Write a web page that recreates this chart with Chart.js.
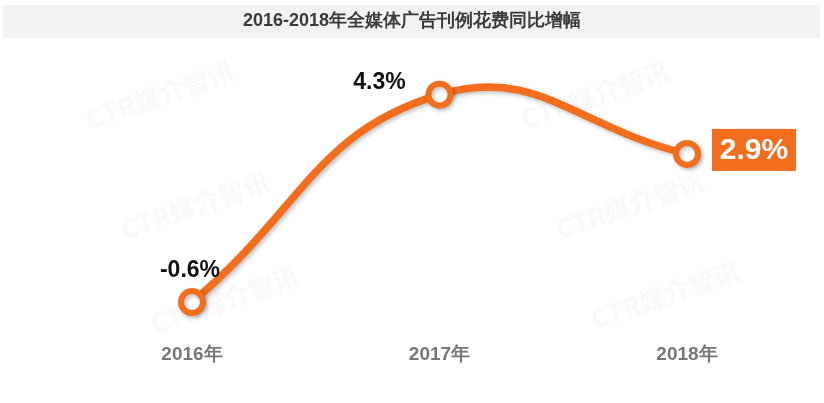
<!DOCTYPE html>
<html>
<head>
<meta charset="utf-8">
<script src="https://cdn.jsdelivr.net/npm/chart.js@4"></script>
<style>
  html, body { margin: 0; padding: 0; background: #fff; }
  #wrap { width: 824px; height: 403px; position: relative; }
</style>
</head>
<body>
<div id="wrap"><canvas id="growthChart" width="824" height="403"></canvas></div>
<script>
const years = ['2016年', '2017年', '2018年'];
const growth = [-0.6, 4.3, 2.9];
const growthLabels = ['-0.6%', '4.3%', '2.9%'];
const chartTitle = '2016-2018年全媒体广告刊例花费同比增幅';

const orange = '#f26d1c';

// gray title band, watermark, value labels
const decor = {
  id: 'decor',
  beforeDraw(chart) {
    const c = chart.ctx;
    c.save();
    c.fillStyle = '#f2f2f2';
    c.fillRect(3, 5, 817, 33);
    c.fillStyle = '#3a3a3a';
    c.font = 'bold 18px "Liberation Sans", Arial, sans-serif';
    c.textAlign = 'center';
    c.textBaseline = 'middle';
    c.fillText(chartTitle, 412, 21);

    c.fillStyle = 'rgba(200,200,200,0.10)';
    c.font = 'bold 26px "Noto Sans CJK SC", sans-serif';
    [[160, 95], [595, 95], [195, 205], [630, 205], [225, 300], [665, 295]].forEach(([x, y]) => {
      c.save();
      c.translate(x, y);
      c.rotate(-0.33);
      c.fillText('CTR媒介智讯', 0, 0);
      c.restore();
    });
    c.restore();
  },
  afterDatasetsDraw(chart) {
    const c = chart.ctx;
    const pts = chart.getDatasetMeta(0).data;
    c.save();
    c.textAlign = 'center';
    c.textBaseline = 'middle';
    c.font = 'bold 23px "Liberation Sans", Arial, sans-serif';
    c.fillStyle = '#111';
    c.fillText(growthLabels[0], pts[0].x - 2, pts[0].y - 31);
    c.fillText(growthLabels[1], pts[1].x - 60, pts[1].y - 12);

    const p = pts[2];
    c.fillStyle = orange;
    c.fillRect(p.x + 25, p.y - 25, 84, 42);
    c.fillStyle = '#fff';
    c.font = 'bold 30px "Liberation Sans", Arial, sans-serif';
    c.fillText(growthLabels[2], p.x + 67, p.y - 3);
    c.restore();
  }
};

const shadow = {
  id: 'shadow',
  beforeDatasetDraw(chart) {
    const c = chart.ctx;
    c.save();
    c.shadowColor = 'rgba(0,0,0,0.25)';
    c.shadowBlur = 4;
    c.shadowOffsetX = 2;
    c.shadowOffsetY = 2;
  },
  afterDatasetDraw(chart) {
    chart.ctx.restore();
  }
};

const ctx = document.getElementById('growthChart').getContext('2d');
const growthChart = new Chart(ctx, {
  type: 'line',
  data: {
    labels: years,
    datasets: [
      {
        data: growth,
        borderColor: orange,
        borderWidth: 7.5,
        tension: 0.45,
        pointRadius: 11,
        pointBorderWidth: 6,
        pointBackgroundColor: '#fff',
        pointBorderColor: orange,
        clip: false,
      },
    ],
  },
  options: {
    responsive: false,
    animation: false,
    layout: { padding: { top: 65, bottom: 34, left: 192, right: 137 } },
    plugins: { legend: { display: false }, title: { display: false }, tooltip: { enabled: false } },
    scales: {
      x: {
        offset: false,
        border: { display: false },
        grid: { display: false, drawTicks: false },
        ticks: {
          padding: 3,
          color: '#777',
          font: { family: '"Liberation Sans", Arial, sans-serif', size: 19, weight: 'bold' },
        },
      },
      y: { display: false, min: -1.5, max: 5 },
    },
  },
  plugins: [decor, shadow],
});
</script>
</body>
</html>
